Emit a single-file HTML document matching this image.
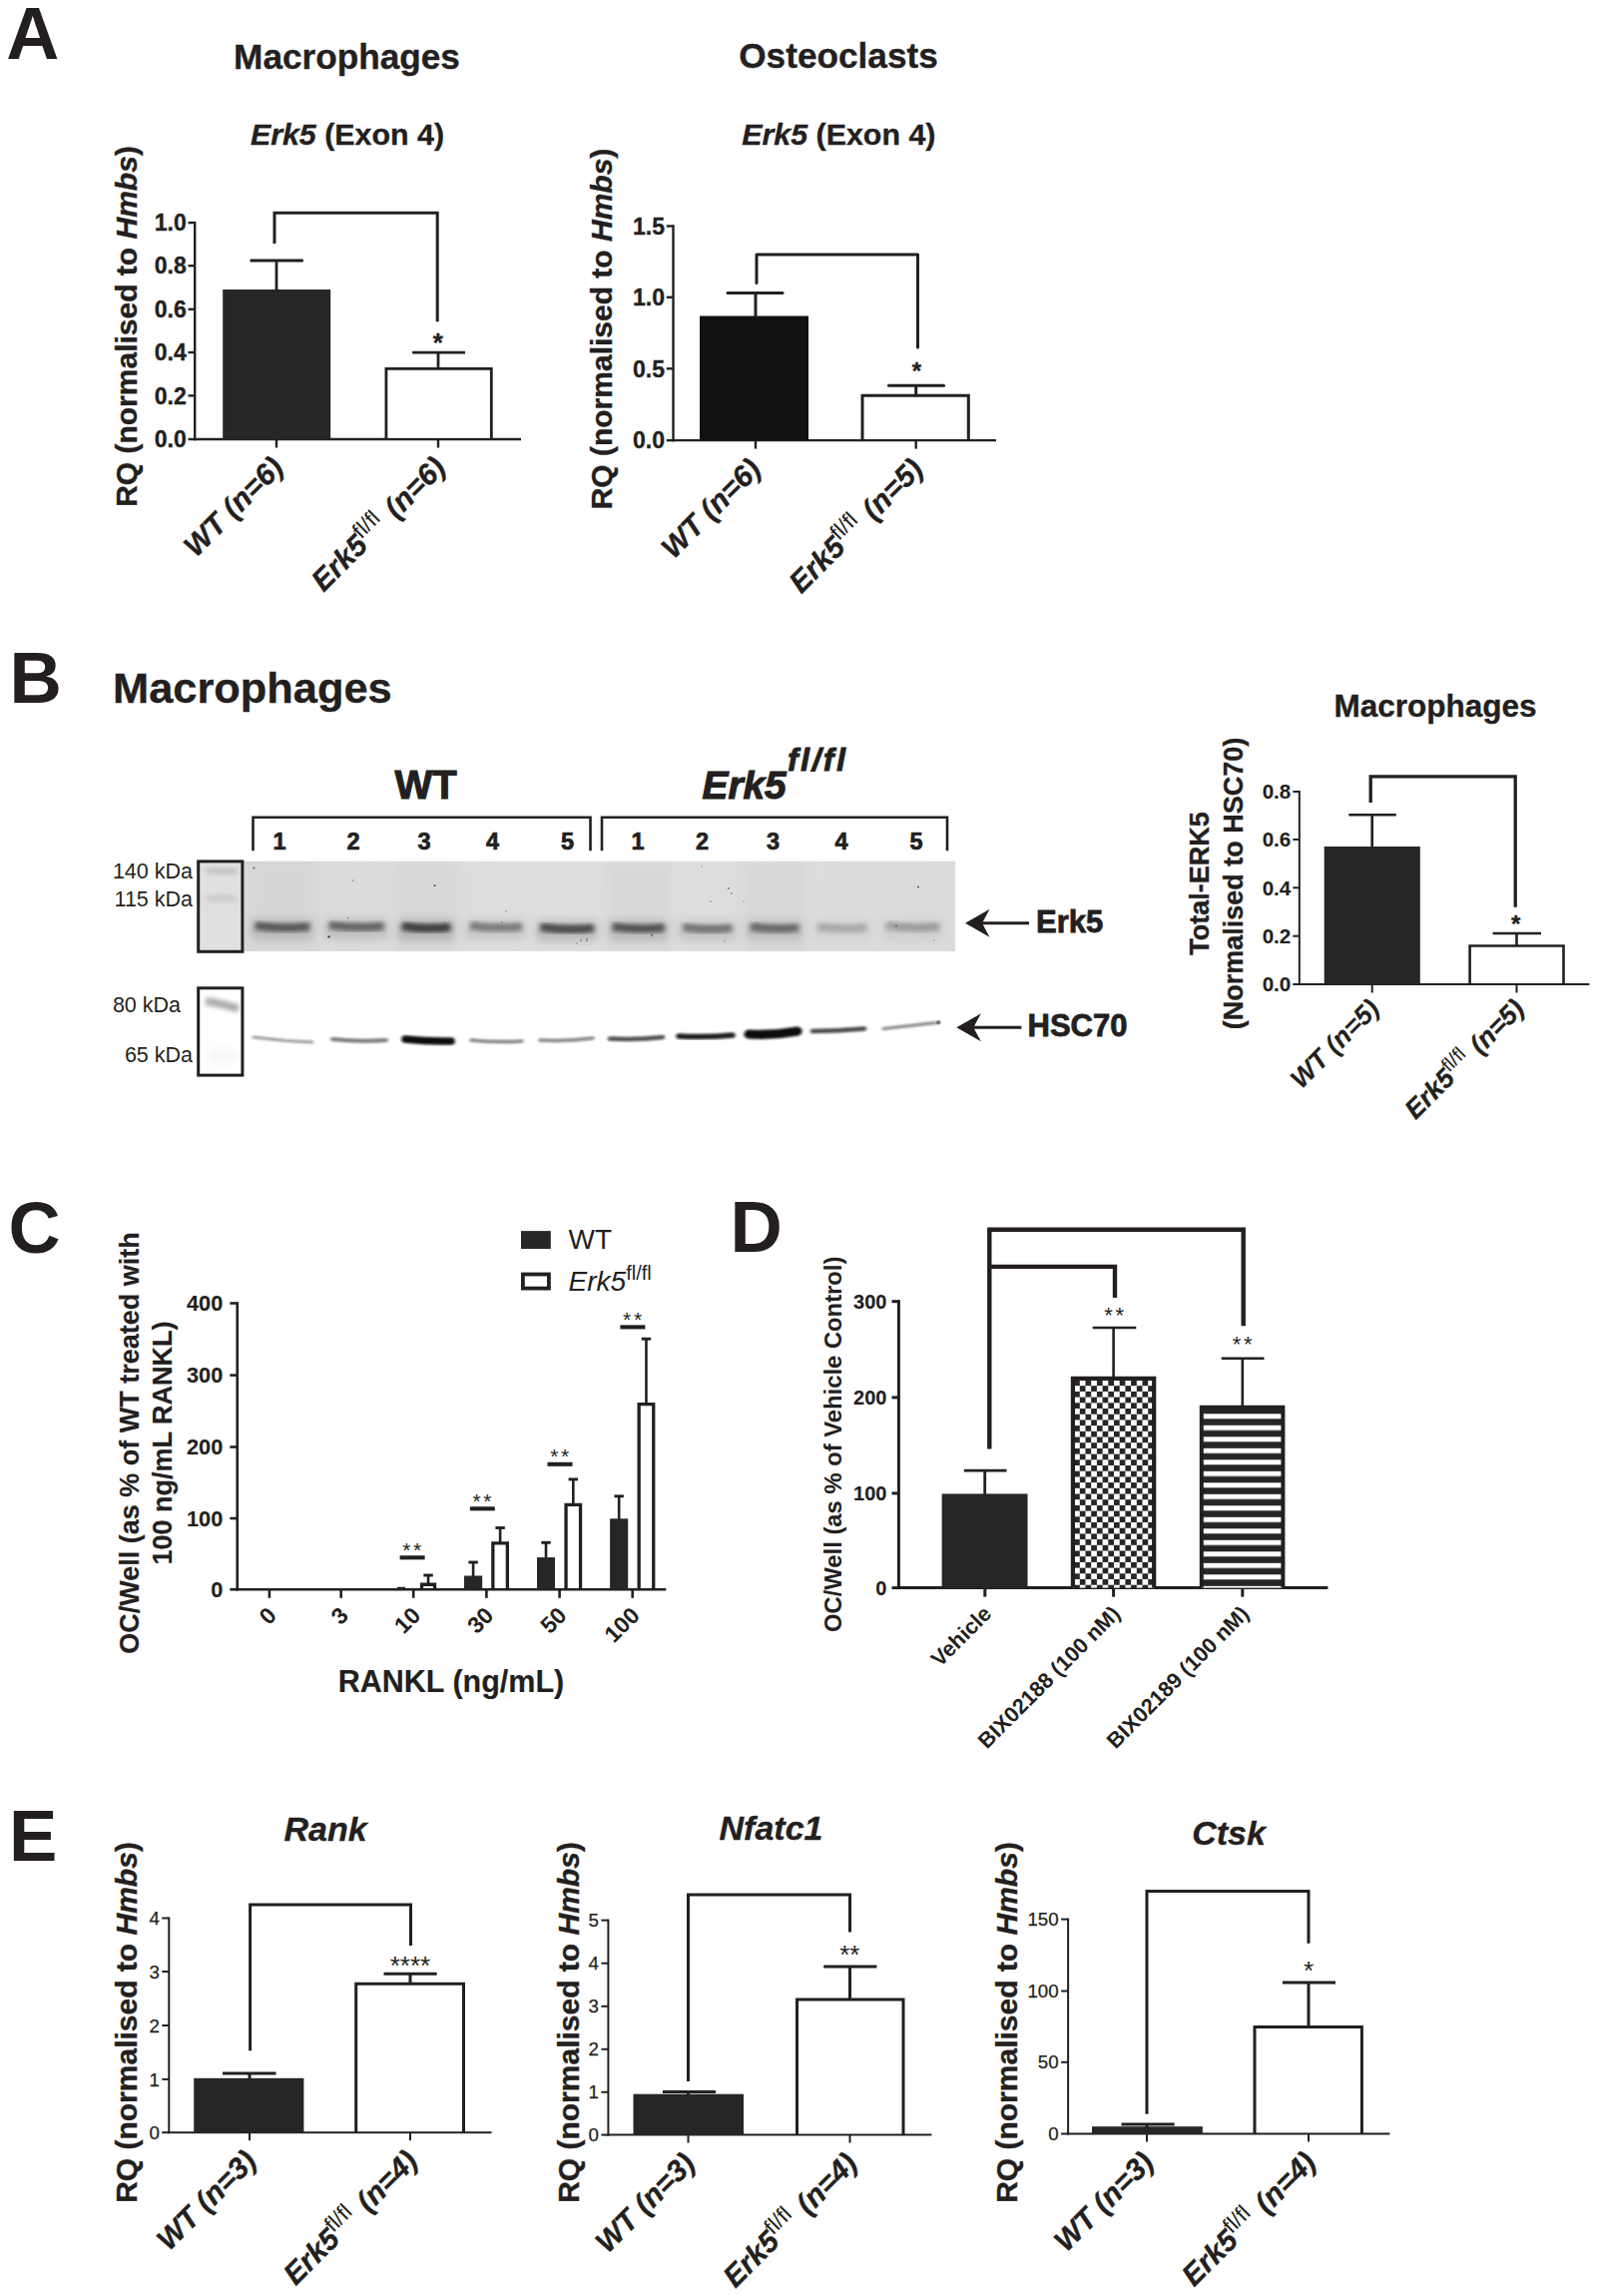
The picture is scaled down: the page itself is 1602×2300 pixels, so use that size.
<!DOCTYPE html>
<html><head><meta charset="utf-8"><title>Figure</title>
<style>html,body{margin:0;padding:0;background:#fff}svg{display:block}text{font-family:"Liberation Sans",sans-serif}</style></head>
<body>
<svg width="1602" height="2300" viewBox="0 0 1602 2300">
<rect width="1602" height="2300" fill="#fff"/>
<text x="6.20" y="59.40" font-size="73.5" font-weight="bold" font-style="normal" text-anchor="start" fill="#231f20" stroke="none">A</text>
<text x="347.50" y="69.00" font-size="35.2" font-weight="bold" font-style="normal" text-anchor="middle" fill="#231f20" stroke="#231f20" stroke-width="0.35">Macrophages</text>
<text x="348.00" y="145.00" font-size="30.4" font-weight="bold" font-style="normal" text-anchor="middle" fill="#231f20" stroke="#231f20" stroke-width="0.35"><tspan font-style="italic">Erk5</tspan> (Exon 4)</text>
<text transform="translate(137.00 327.00) rotate(-90)" font-size="30" font-weight="bold" font-style="normal" text-anchor="middle" fill="#231f20" stroke="#231f20" stroke-width="0.35">RQ (normalised to <tspan font-style="italic">Hmbs</tspan>)</text>
<line x1="195.20" y1="221.90" x2="195.20" y2="441.20" stroke="#231f20" stroke-width="2.4" stroke-linecap="butt"/>
<line x1="194.00" y1="440.00" x2="522.00" y2="440.00" stroke="#231f20" stroke-width="2.4" stroke-linecap="butt"/>
<line x1="188.50" y1="223.10" x2="195.20" y2="223.10" stroke="#231f20" stroke-width="2.4" stroke-linecap="butt"/>
<text x="186.70" y="231.33" font-size="23" font-weight="bold" font-style="normal" text-anchor="end" fill="#231f20" stroke="#231f20" stroke-width="0.35">1.0</text>
<line x1="188.50" y1="266.20" x2="195.20" y2="266.20" stroke="#231f20" stroke-width="2.4" stroke-linecap="butt"/>
<text x="186.70" y="274.43" font-size="23" font-weight="bold" font-style="normal" text-anchor="end" fill="#231f20" stroke="#231f20" stroke-width="0.35">0.8</text>
<line x1="188.50" y1="309.80" x2="195.20" y2="309.80" stroke="#231f20" stroke-width="2.4" stroke-linecap="butt"/>
<text x="186.70" y="318.03" font-size="23" font-weight="bold" font-style="normal" text-anchor="end" fill="#231f20" stroke="#231f20" stroke-width="0.35">0.6</text>
<line x1="188.50" y1="353.00" x2="195.20" y2="353.00" stroke="#231f20" stroke-width="2.4" stroke-linecap="butt"/>
<text x="186.70" y="361.23" font-size="23" font-weight="bold" font-style="normal" text-anchor="end" fill="#231f20" stroke="#231f20" stroke-width="0.35">0.4</text>
<line x1="188.50" y1="396.40" x2="195.20" y2="396.40" stroke="#231f20" stroke-width="2.4" stroke-linecap="butt"/>
<text x="186.70" y="404.63" font-size="23" font-weight="bold" font-style="normal" text-anchor="end" fill="#231f20" stroke="#231f20" stroke-width="0.35">0.2</text>
<line x1="188.50" y1="440.00" x2="195.20" y2="440.00" stroke="#231f20" stroke-width="2.4" stroke-linecap="butt"/>
<text x="186.70" y="448.23" font-size="23" font-weight="bold" font-style="normal" text-anchor="end" fill="#231f20" stroke="#231f20" stroke-width="0.35">0.0</text>
<line x1="277.00" y1="440.00" x2="277.00" y2="448.50" stroke="#231f20" stroke-width="2.4" stroke-linecap="butt"/>
<line x1="439.00" y1="440.00" x2="439.00" y2="448.50" stroke="#231f20" stroke-width="2.4" stroke-linecap="butt"/>
<rect x="223.20" y="290.00" width="108.00" height="150.00" fill="#262626" stroke="none" stroke-width="0"/>
<rect x="386.90" y="369.40" width="105.40" height="69.10" fill="#fff" stroke="none" stroke-width="0"/>
<path d="M386.90 440.00V369.40H492.30V440.00" stroke="#231f20" stroke-width="2.8" fill="none" stroke-linejoin="miter"/>
<line x1="277.00" y1="261.00" x2="277.00" y2="291.00" stroke="#231f20" stroke-width="2.8" stroke-linecap="butt"/>
<line x1="250.60" y1="261.00" x2="303.80" y2="261.00" stroke="#231f20" stroke-width="2.8" stroke-linecap="butt"/>
<line x1="439.00" y1="353.10" x2="439.00" y2="369.00" stroke="#231f20" stroke-width="2.8" stroke-linecap="butt"/>
<line x1="413.10" y1="353.10" x2="466.00" y2="353.10" stroke="#231f20" stroke-width="2.8" stroke-linecap="butt"/>
<path d="M275.00 244.00V213.30H438.20V322.30" stroke="#231f20" stroke-width="3" fill="none" stroke-linecap="butt" stroke-linejoin="miter"/>
<text x="438.80" y="351.50" font-size="26" font-weight="bold" font-style="normal" text-anchor="middle" fill="#231f20" stroke="#231f20" stroke-width="0.35">*</text>
<text transform="translate(285.50 470.00) rotate(-45)" font-size="29.7" font-weight="bold" font-style="italic" text-anchor="end" fill="#231f20" stroke="#231f20" stroke-width="0.35">WT (n=6)</text>
<text transform="translate(448.00 470.00) rotate(-45)" font-size="29.7" font-weight="bold" font-style="normal" text-anchor="end" fill="#231f20" xml:space="preserve" stroke="#231f20" stroke-width="0.35"><tspan font-style="italic">Erk5</tspan><tspan font-weight="normal" font-style="normal" stroke="none" font-size="22.0" dy="-11.0">fl/fl</tspan><tspan dy="11.0" dx="2.4" font-style="italic" xml:space="preserve"> (n=6)</tspan></text>
<text x="840.00" y="68.30" font-size="35.2" font-weight="bold" font-style="normal" text-anchor="middle" fill="#231f20" stroke="#231f20" stroke-width="0.35">Osteoclasts</text>
<text x="840.30" y="145.00" font-size="30.4" font-weight="bold" font-style="normal" text-anchor="middle" fill="#231f20" stroke="#231f20" stroke-width="0.35"><tspan font-style="italic">Erk5</tspan> (Exon 4)</text>
<text transform="translate(613.00 329.50) rotate(-90)" font-size="30" font-weight="bold" font-style="normal" text-anchor="middle" fill="#231f20" stroke="#231f20" stroke-width="0.35">RQ (normalised to <tspan font-style="italic">Hmbs</tspan>)</text>
<line x1="674.50" y1="225.30" x2="674.50" y2="442.30" stroke="#231f20" stroke-width="2.4" stroke-linecap="butt"/>
<line x1="673.30" y1="441.10" x2="998.00" y2="441.10" stroke="#231f20" stroke-width="2.4" stroke-linecap="butt"/>
<line x1="667.80" y1="226.50" x2="674.50" y2="226.50" stroke="#231f20" stroke-width="2.4" stroke-linecap="butt"/>
<text x="666.00" y="234.73" font-size="23" font-weight="bold" font-style="normal" text-anchor="end" fill="#231f20" stroke="#231f20" stroke-width="0.35">1.5</text>
<line x1="667.80" y1="297.80" x2="674.50" y2="297.80" stroke="#231f20" stroke-width="2.4" stroke-linecap="butt"/>
<text x="666.00" y="306.03" font-size="23" font-weight="bold" font-style="normal" text-anchor="end" fill="#231f20" stroke="#231f20" stroke-width="0.35">1.0</text>
<line x1="667.80" y1="369.30" x2="674.50" y2="369.30" stroke="#231f20" stroke-width="2.4" stroke-linecap="butt"/>
<text x="666.00" y="377.53" font-size="23" font-weight="bold" font-style="normal" text-anchor="end" fill="#231f20" stroke="#231f20" stroke-width="0.35">0.5</text>
<line x1="667.80" y1="441.10" x2="674.50" y2="441.10" stroke="#231f20" stroke-width="2.4" stroke-linecap="butt"/>
<text x="666.00" y="449.33" font-size="23" font-weight="bold" font-style="normal" text-anchor="end" fill="#231f20" stroke="#231f20" stroke-width="0.35">0.0</text>
<line x1="757.00" y1="441.10" x2="757.00" y2="449.60" stroke="#231f20" stroke-width="2.4" stroke-linecap="butt"/>
<line x1="917.70" y1="441.10" x2="917.70" y2="449.60" stroke="#231f20" stroke-width="2.4" stroke-linecap="butt"/>
<rect x="701.00" y="316.50" width="109.00" height="124.60" fill="#111" stroke="none" stroke-width="0"/>
<rect x="864.00" y="396.30" width="106.30" height="43.30" fill="#fff" stroke="none" stroke-width="0"/>
<path d="M864.00 441.10V396.30H970.30V441.10" stroke="#231f20" stroke-width="3" fill="none" stroke-linejoin="miter"/>
<line x1="757.00" y1="293.50" x2="757.00" y2="318.00" stroke="#231f20" stroke-width="3" stroke-linecap="butt"/>
<line x1="729.00" y1="293.50" x2="784.00" y2="293.50" stroke="#231f20" stroke-width="3" stroke-linecap="round"/>
<line x1="917.70" y1="386.20" x2="917.70" y2="396.00" stroke="#231f20" stroke-width="3" stroke-linecap="butt"/>
<line x1="890.50" y1="386.20" x2="945.50" y2="386.20" stroke="#231f20" stroke-width="3" stroke-linecap="round"/>
<path d="M758.00 283.50V255.00H919.50V348.00" stroke="#231f20" stroke-width="3" fill="none" stroke-linecap="round" stroke-linejoin="round"/>
<text x="918.30" y="379.50" font-size="24" font-weight="bold" font-style="normal" text-anchor="middle" fill="#231f20" stroke="#231f20" stroke-width="0.35">*</text>
<text transform="translate(764.00 471.70) rotate(-45)" font-size="29.7" font-weight="bold" font-style="italic" text-anchor="end" fill="#231f20" stroke="#231f20" stroke-width="0.35">WT (n=6)</text>
<text transform="translate(926.50 471.70) rotate(-45)" font-size="29.7" font-weight="bold" font-style="normal" text-anchor="end" fill="#231f20" xml:space="preserve" stroke="#231f20" stroke-width="0.35"><tspan font-style="italic">Erk5</tspan><tspan font-weight="normal" font-style="normal" stroke="none" font-size="22.0" dy="-11.0">fl/fl</tspan><tspan dy="11.0" dx="2.4" font-style="italic" xml:space="preserve"> (n=5)</tspan></text>
<text x="9.50" y="704.00" font-size="72.5" font-weight="bold" font-style="normal" text-anchor="start" fill="#231f20" stroke="none">B</text>
<text x="113.00" y="704.00" font-size="43.4" font-weight="bold" font-style="normal" text-anchor="start" fill="#231f20" stroke="#231f20" stroke-width="0.35">Macrophages</text>
<text x="426.50" y="800.00" font-size="40" font-weight="bold" font-style="normal" text-anchor="middle" fill="#231f20" stroke="#231f20" stroke-width="1.1">WT</text>
<text x="703.50" y="800.00" font-size="38.8" font-weight="bold" font-style="normal" text-anchor="start" fill="#231f20" stroke="#231f20" stroke-width="1.1"><tspan font-style="italic">Erk5</tspan><tspan font-style="italic" font-size="31" dy="-28" dx="1.5" letter-spacing="2.8">fl/fl</tspan></text>
<path d="M253.5 852.3V818.8H591.5V852.3" stroke="#231f20" stroke-width="2.6" fill="none" stroke-linejoin="miter"/>
<path d="M603 852.3V818.8H949V852.3" stroke="#231f20" stroke-width="2.6" fill="none" stroke-linejoin="miter"/>
<text x="280.00" y="851.00" font-size="23.5" font-weight="bold" font-style="normal" text-anchor="middle" fill="#231f20" stroke="#231f20" stroke-width="0.7">1</text>
<text x="354.00" y="851.00" font-size="23.5" font-weight="bold" font-style="normal" text-anchor="middle" fill="#231f20" stroke="#231f20" stroke-width="0.7">2</text>
<text x="425.00" y="851.00" font-size="23.5" font-weight="bold" font-style="normal" text-anchor="middle" fill="#231f20" stroke="#231f20" stroke-width="0.7">3</text>
<text x="493.50" y="851.00" font-size="23.5" font-weight="bold" font-style="normal" text-anchor="middle" fill="#231f20" stroke="#231f20" stroke-width="0.7">4</text>
<text x="568.50" y="851.00" font-size="23.5" font-weight="bold" font-style="normal" text-anchor="middle" fill="#231f20" stroke="#231f20" stroke-width="0.7">5</text>
<text x="639.00" y="851.00" font-size="23.5" font-weight="bold" font-style="normal" text-anchor="middle" fill="#231f20" stroke="#231f20" stroke-width="0.7">1</text>
<text x="703.50" y="851.00" font-size="23.5" font-weight="bold" font-style="normal" text-anchor="middle" fill="#231f20" stroke="#231f20" stroke-width="0.7">2</text>
<text x="774.50" y="851.00" font-size="23.5" font-weight="bold" font-style="normal" text-anchor="middle" fill="#231f20" stroke="#231f20" stroke-width="0.7">3</text>
<text x="843.00" y="851.00" font-size="23.5" font-weight="bold" font-style="normal" text-anchor="middle" fill="#231f20" stroke="#231f20" stroke-width="0.7">4</text>
<text x="918.00" y="851.00" font-size="23.5" font-weight="bold" font-style="normal" text-anchor="middle" fill="#231f20" stroke="#231f20" stroke-width="0.7">5</text>
<defs><filter id="b1" x="-30%" y="-200%" width="160%" height="500%"><feGaussianBlur stdDeviation="2.6 2.2"/></filter><filter id="b2" x="-30%" y="-200%" width="160%" height="500%"><feGaussianBlur stdDeviation="1.8 1.1"/></filter><filter id="b3" x="-30%" y="-200%" width="160%" height="500%"><feGaussianBlur stdDeviation="4 4.5"/></filter><filter id="b4" x="-50%" y="-50%" width="200%" height="200%"><feGaussianBlur stdDeviation="0.5"/></filter><linearGradient id="g1" x1="0" y1="0" x2="1" y2="0"><stop offset="0" stop-color="#dadada"/><stop offset=".5" stop-color="#dedede"/><stop offset="1" stop-color="#dbdbdb"/></linearGradient></defs>
<rect x="244.40" y="862.70" width="712.60" height="90.30" fill="url(#g1)" stroke="none" stroke-width="0"/>
<rect x="250" y="863" width="66" height="90" fill="#cfcfcf" opacity=".35" filter="url(#b3)" clip-path="url(#gc)"/>
<rect x="398" y="863" width="60" height="90" fill="#cfcfcf" opacity=".35" filter="url(#b3)" clip-path="url(#gc)"/>
<rect x="608" y="863" width="63" height="90" fill="#cfcfcf" opacity=".35" filter="url(#b3)" clip-path="url(#gc)"/>
<rect x="745" y="863" width="61" height="90" fill="#cfcfcf" opacity=".35" filter="url(#b3)" clip-path="url(#gc)"/>
<clipPath id="gc"><rect x="244.4" y="862.7" width="712.6" height="90.3"/></clipPath>
<rect x="251.8" y="921" width="62.2" height="20" fill="#777" opacity="0.31" filter="url(#b3)"/>
<path d="M255.8 927.5Q282.9 931.5 310.0 928.5" stroke="#2a2a2a" stroke-width="8" stroke-linecap="butt" fill="none" opacity="0.62" filter="url(#b1)"/>
<path d="M256.8 925.5Q282.9 929.0 309.0 926.5" stroke="#1a1a1a" stroke-width="3" stroke-linecap="butt" fill="none" opacity="0.31" filter="url(#b1)"/>
<rect x="326.0" y="920.5" width="62.4" height="20" fill="#777" opacity="0.28" filter="url(#b3)"/>
<path d="M330.0 927.0Q357.2 931.0 384.4 928.0" stroke="#2a2a2a" stroke-width="8" stroke-linecap="butt" fill="none" opacity="0.55" filter="url(#b1)"/>
<path d="M331.0 925.0Q357.2 928.5 383.4 926.0" stroke="#1a1a1a" stroke-width="3" stroke-linecap="butt" fill="none" opacity="0.28" filter="url(#b1)"/>
<rect x="399.0" y="921.5" width="56.0" height="20" fill="#777" opacity="0.40" filter="url(#b3)"/>
<path d="M403.0 928.0Q427.0 932.0 451.0 929.0" stroke="#2a2a2a" stroke-width="8" stroke-linecap="butt" fill="none" opacity="0.80" filter="url(#b1)"/>
<path d="M404.0 926.0Q427.0 929.5 450.0 927.0" stroke="#1a1a1a" stroke-width="3" stroke-linecap="butt" fill="none" opacity="0.40" filter="url(#b1)"/>
<rect x="467.0" y="921" width="60.0" height="20" fill="#777" opacity="0.21" filter="url(#b3)"/>
<path d="M471.0 927.5Q497.0 931.5 523.0 928.5" stroke="#2a2a2a" stroke-width="8" stroke-linecap="butt" fill="none" opacity="0.42" filter="url(#b1)"/>
<path d="M472.0 925.5Q497.0 929.0 522.0 926.5" stroke="#1a1a1a" stroke-width="3" stroke-linecap="butt" fill="none" opacity="0.21" filter="url(#b1)"/>
<rect x="537.7" y="922.5" width="61.0" height="20" fill="#777" opacity="0.36" filter="url(#b3)"/>
<path d="M541.7 929.0Q568.2 933.0 594.7 930.0" stroke="#2a2a2a" stroke-width="8" stroke-linecap="butt" fill="none" opacity="0.72" filter="url(#b1)"/>
<path d="M542.7 927.0Q568.2 930.5 593.7 928.0" stroke="#1a1a1a" stroke-width="3" stroke-linecap="butt" fill="none" opacity="0.36" filter="url(#b1)"/>
<rect x="609.8" y="922" width="59.7" height="20" fill="#777" opacity="0.33" filter="url(#b3)"/>
<path d="M613.8 928.5Q639.6 932.5 665.5 929.5" stroke="#2a2a2a" stroke-width="8" stroke-linecap="butt" fill="none" opacity="0.66" filter="url(#b1)"/>
<path d="M614.8 926.5Q639.6 930.0 664.5 927.5" stroke="#1a1a1a" stroke-width="3" stroke-linecap="butt" fill="none" opacity="0.33" filter="url(#b1)"/>
<rect x="680.3" y="922.5" width="57.1" height="20" fill="#777" opacity="0.23" filter="url(#b3)"/>
<path d="M684.3 929.0Q708.8 933.0 733.4 930.0" stroke="#2a2a2a" stroke-width="8" stroke-linecap="butt" fill="none" opacity="0.46" filter="url(#b1)"/>
<path d="M685.3 927.0Q708.8 930.5 732.4 928.0" stroke="#1a1a1a" stroke-width="3" stroke-linecap="butt" fill="none" opacity="0.23" filter="url(#b1)"/>
<rect x="748.0" y="922" width="56.0" height="20" fill="#777" opacity="0.26" filter="url(#b3)"/>
<path d="M752.0 928.5Q776.0 932.5 800.0 929.5" stroke="#2a2a2a" stroke-width="8" stroke-linecap="butt" fill="none" opacity="0.52" filter="url(#b1)"/>
<path d="M753.0 926.5Q776.0 930.0 799.0 927.5" stroke="#1a1a1a" stroke-width="3" stroke-linecap="butt" fill="none" opacity="0.26" filter="url(#b1)"/>
<rect x="815.0" y="922" width="57.0" height="20" fill="#777" opacity="0.10" filter="url(#b3)"/>
<path d="M819.0 928.5Q843.5 932.5 868.0 929.5" stroke="#2a2a2a" stroke-width="8" stroke-linecap="butt" fill="none" opacity="0.20" filter="url(#b1)"/>
<path d="M820.0 926.5Q843.5 930.0 867.0 927.5" stroke="#1a1a1a" stroke-width="3" stroke-linecap="butt" fill="none" opacity="0.10" filter="url(#b1)"/>
<rect x="884.0" y="921" width="61.0" height="20" fill="#777" opacity="0.13" filter="url(#b3)"/>
<path d="M888.0 927.5Q914.5 931.5 941.0 928.5" stroke="#2a2a2a" stroke-width="8" stroke-linecap="butt" fill="none" opacity="0.26" filter="url(#b1)"/>
<path d="M889.0 925.5Q914.5 929.0 940.0 926.5" stroke="#1a1a1a" stroke-width="3" stroke-linecap="butt" fill="none" opacity="0.13" filter="url(#b1)"/>
<circle cx="254.5" cy="869.5" r="0.9" fill="#222" opacity="0.7" filter="url(#b4)"/>
<circle cx="353.5" cy="882" r="0.8" fill="#222" opacity="0.5" filter="url(#b4)"/>
<circle cx="435.5" cy="887" r="1" fill="#222" opacity="0.8" filter="url(#b4)"/>
<circle cx="349" cy="919.5" r="0.8" fill="#222" opacity="0.5" filter="url(#b4)"/>
<circle cx="329.5" cy="938.5" r="1.2" fill="#222" opacity="0.8" filter="url(#b4)"/>
<circle cx="507" cy="913" r="0.7" fill="#222" opacity="0.6" filter="url(#b4)"/>
<circle cx="503" cy="924" r="0.7" fill="#222" opacity="0.6" filter="url(#b4)"/>
<circle cx="588" cy="942" r="0.8" fill="#222" opacity="0.7" filter="url(#b4)"/>
<circle cx="578" cy="945" r="0.7" fill="#222" opacity="0.5" filter="url(#b4)"/>
<circle cx="588" cy="940" r="0.7" fill="#222" opacity="0.5" filter="url(#b4)"/>
<circle cx="730" cy="890" r="1.1" fill="#222" opacity="0.5" filter="url(#b4)"/>
<circle cx="733" cy="895" r="0.9" fill="#222" opacity="0.45" filter="url(#b4)"/>
<circle cx="712" cy="903" r="0.8" fill="#222" opacity="0.5" filter="url(#b4)"/>
<circle cx="745" cy="903" r="0.7" fill="#222" opacity="0.4" filter="url(#b4)"/>
<circle cx="920" cy="888.5" r="1.1" fill="#222" opacity="0.65" filter="url(#b4)"/>
<circle cx="653" cy="937" r="0.9" fill="#222" opacity="0.7" filter="url(#b4)"/>
<circle cx="726" cy="943" r="0.7" fill="#222" opacity="0.5" filter="url(#b4)"/>
<circle cx="898" cy="927.5" r="0.9" fill="#222" opacity="0.5" filter="url(#b4)"/>
<circle cx="936" cy="942" r="0.7" fill="#222" opacity="0.45" filter="url(#b4)"/>
<circle cx="703" cy="868" r="0.7" fill="#222" opacity="0.4" filter="url(#b4)"/>
<circle cx="582" cy="942" r="0.8" fill="#222" opacity="0.7" filter="url(#b4)"/>
<rect x="198.70" y="862.90" width="44.20" height="90.40" fill="#e0e0e0" stroke="#231f20" stroke-width="3"/>
<rect x="207" y="869.5" width="30" height="6" fill="#999" opacity=".42" filter="url(#b1)"/>
<rect x="207" y="896.5" width="30" height="7" fill="#aaa" opacity=".36" filter="url(#b1)"/>
<text x="193.00" y="880.00" font-size="21.5" font-weight="normal" font-style="normal" text-anchor="end" fill="#231f20">140 kDa</text>
<text x="193.00" y="907.50" font-size="21.5" font-weight="normal" font-style="normal" text-anchor="end" fill="#231f20">115 kDa</text>
<rect x="198.70" y="989.80" width="44.20" height="87.30" fill="#fff" stroke="#231f20" stroke-width="3"/>
<path d="M206 1003Q222 1005 239 1010.5" stroke="#777" stroke-width="8" fill="none" opacity=".62" filter="url(#b1)"/>
<rect x="208" y="1052" width="28" height="12" fill="#ddd" opacity=".3" filter="url(#b3)"/>
<text x="181.00" y="1013.50" font-size="21.5" font-weight="normal" font-style="normal" text-anchor="end" fill="#231f20">80 kDa</text>
<text x="193.00" y="1063.50" font-size="21.5" font-weight="normal" font-style="normal" text-anchor="end" fill="#231f20">65 kDa</text>
<path d="M254 1039Q283.5 1043.0 313 1044" stroke="#0a0a0a" stroke-width="3" stroke-linecap="round" fill="none" opacity="0.4" filter="url(#b2)"/>
<path d="M333 1041Q360.0 1044.0 387 1042" stroke="#0a0a0a" stroke-width="4" stroke-linecap="round" fill="none" opacity="0.55" filter="url(#b2)"/>
<path d="M406 1041Q429.0 1043.5 452 1043" stroke="#0a0a0a" stroke-width="7.5" stroke-linecap="round" fill="none" opacity="1.0" filter="url(#b2)"/>
<path d="M472 1042Q497.5 1044.5 523 1043" stroke="#0a0a0a" stroke-width="3.5" stroke-linecap="round" fill="none" opacity="0.5" filter="url(#b2)"/>
<path d="M541 1042Q567.5 1043.5 594 1040" stroke="#0a0a0a" stroke-width="3.5" stroke-linecap="round" fill="none" opacity="0.5" filter="url(#b2)"/>
<path d="M611 1040.5Q637.5 1041.8 664 1039" stroke="#0a0a0a" stroke-width="4.5" stroke-linecap="round" fill="none" opacity="0.72" filter="url(#b2)"/>
<path d="M680 1038Q707.0 1039.5 734 1037" stroke="#0a0a0a" stroke-width="5.5" stroke-linecap="round" fill="none" opacity="0.92" filter="url(#b2)"/>
<path d="M750 1036Q774.5 1037.5 799 1033" stroke="#0a0a0a" stroke-width="9" stroke-linecap="round" fill="none" opacity="1.0" filter="url(#b2)"/>
<path d="M814 1033Q840.0 1032.8 866 1030.5" stroke="#0a0a0a" stroke-width="4.5" stroke-linecap="round" fill="none" opacity="0.75" filter="url(#b2)"/>
<path d="M885 1030.5Q911.5 1027.5 938 1024.5" stroke="#0a0a0a" stroke-width="3" stroke-linecap="round" fill="none" opacity="0.5" filter="url(#b2)"/>
<circle cx="940.3" cy="1024.2" r="2.2" fill="#333" opacity=".6" filter="url(#b4)"/>
<path d="M967 924.7L991.5 910.7L984 924.7L991.5 938.7Z" fill="#231f20"/>
<line x1="983.00" y1="924.70" x2="1031.00" y2="924.70" stroke="#231f20" stroke-width="3" stroke-linecap="butt"/>
<text x="1038.00" y="934.00" font-size="31" font-weight="bold" font-style="normal" text-anchor="start" fill="#231f20" stroke="#231f20" stroke-width="0.8">Erk5</text>
<path d="M958.3 1029.3L982.8 1015.3L975.3 1029.3L982.8 1043.3Z" fill="#231f20"/>
<line x1="974.30" y1="1029.30" x2="1023.40" y2="1029.30" stroke="#231f20" stroke-width="3" stroke-linecap="butt"/>
<text x="1029.50" y="1038.30" font-size="31" font-weight="bold" font-style="normal" text-anchor="start" fill="#231f20" stroke="#231f20" stroke-width="0.8">HSC70</text>
<text x="1438.00" y="718.00" font-size="31.5" font-weight="bold" font-style="normal" text-anchor="middle" fill="#231f20" stroke="#231f20" stroke-width="0.35">Macrophages</text>
<text transform="translate(1211.00 885.00) rotate(-90)" font-size="27" font-weight="bold" font-style="normal" text-anchor="middle" fill="#231f20" stroke="#231f20" stroke-width="0.35">Total-ERK5</text>
<text transform="translate(1245.00 885.00) rotate(-90)" font-size="27" font-weight="bold" font-style="normal" text-anchor="middle" fill="#231f20" stroke="#231f20" stroke-width="0.35">(Normalised to HSC70)</text>
<line x1="1301.80" y1="792.00" x2="1301.80" y2="987.00" stroke="#231f20" stroke-width="2" stroke-linecap="butt"/>
<line x1="1300.80" y1="986.00" x2="1592.40" y2="986.00" stroke="#231f20" stroke-width="2" stroke-linecap="butt"/>
<line x1="1295.30" y1="793.00" x2="1301.80" y2="793.00" stroke="#231f20" stroke-width="2" stroke-linecap="butt"/>
<text x="1293.30" y="800.37" font-size="20.6" font-weight="bold" font-style="normal" text-anchor="end" fill="#231f20" stroke="#231f20" stroke-width="0.1">0.8</text>
<line x1="1295.30" y1="841.00" x2="1301.80" y2="841.00" stroke="#231f20" stroke-width="2" stroke-linecap="butt"/>
<text x="1293.30" y="848.37" font-size="20.6" font-weight="bold" font-style="normal" text-anchor="end" fill="#231f20" stroke="#231f20" stroke-width="0.1">0.6</text>
<line x1="1295.30" y1="889.30" x2="1301.80" y2="889.30" stroke="#231f20" stroke-width="2" stroke-linecap="butt"/>
<text x="1293.30" y="896.67" font-size="20.6" font-weight="bold" font-style="normal" text-anchor="end" fill="#231f20" stroke="#231f20" stroke-width="0.1">0.4</text>
<line x1="1295.30" y1="937.70" x2="1301.80" y2="937.70" stroke="#231f20" stroke-width="2" stroke-linecap="butt"/>
<text x="1293.30" y="945.07" font-size="20.6" font-weight="bold" font-style="normal" text-anchor="end" fill="#231f20" stroke="#231f20" stroke-width="0.1">0.2</text>
<line x1="1295.30" y1="986.00" x2="1301.80" y2="986.00" stroke="#231f20" stroke-width="2" stroke-linecap="butt"/>
<text x="1293.30" y="993.37" font-size="20.6" font-weight="bold" font-style="normal" text-anchor="end" fill="#231f20" stroke="#231f20" stroke-width="0.1">0.0</text>
<line x1="1374.70" y1="986.00" x2="1374.70" y2="994.50" stroke="#231f20" stroke-width="2" stroke-linecap="butt"/>
<line x1="1519.50" y1="986.00" x2="1519.50" y2="994.50" stroke="#231f20" stroke-width="2" stroke-linecap="butt"/>
<rect x="1326.70" y="848.00" width="96.10" height="138.00" fill="#262626" stroke="none" stroke-width="0"/>
<rect x="1472.60" y="947.50" width="93.90" height="37.00" fill="#fff" stroke="none" stroke-width="0"/>
<path d="M1472.60 986.00V947.50H1566.50V986.00" stroke="#231f20" stroke-width="2.6" fill="none" stroke-linejoin="miter"/>
<line x1="1374.70" y1="816.30" x2="1374.70" y2="849.00" stroke="#231f20" stroke-width="2.6" stroke-linecap="butt"/>
<line x1="1351.30" y1="816.30" x2="1398.80" y2="816.30" stroke="#231f20" stroke-width="2.6" stroke-linecap="butt"/>
<line x1="1519.50" y1="935.00" x2="1519.50" y2="948.00" stroke="#231f20" stroke-width="2.6" stroke-linecap="butt"/>
<line x1="1495.60" y1="935.00" x2="1544.00" y2="935.00" stroke="#231f20" stroke-width="2.6" stroke-linecap="butt"/>
<path d="M1373.20 804.00V777.80H1518.20V908.80" stroke="#231f20" stroke-width="3.3" fill="none" stroke-linecap="butt" stroke-linejoin="miter"/>
<text x="1518.70" y="933.50" font-size="24" font-weight="bold" font-style="normal" text-anchor="middle" fill="#231f20" stroke="#231f20" stroke-width="0.35">*</text>
<text transform="translate(1383.50 1012.00) rotate(-45)" font-size="26.5" font-weight="bold" font-style="italic" text-anchor="end" fill="#231f20" stroke="#231f20" stroke-width="0.15">WT (n=5)</text>
<text transform="translate(1528.50 1012.00) rotate(-45)" font-size="26.5" font-weight="bold" font-style="normal" text-anchor="end" fill="#231f20" xml:space="preserve" stroke="#231f20" stroke-width="0.35"><tspan font-style="italic">Erk5</tspan><tspan font-weight="normal" font-style="normal" stroke="none" font-size="19.6" dy="-9.8">fl/fl</tspan><tspan dy="9.8" dx="2.1" font-style="italic" xml:space="preserve"> (n=5)</tspan></text>
<text x="8.50" y="1254.50" font-size="72" font-weight="bold" font-style="normal" text-anchor="start" fill="#231f20" stroke="none">C</text>
<rect x="522.00" y="1233.10" width="29.80" height="17.90" fill="#262626" stroke="none" stroke-width="0"/>
<text x="569.60" y="1251.00" font-size="28" font-weight="normal" font-style="normal" text-anchor="start" fill="#231f20">WT</text>
<rect x="523.90" y="1276.50" width="26.00" height="14.10" fill="#fff" stroke="#231f20" stroke-width="3.8"/>
<text x="569.60" y="1292.60" font-size="28" font-weight="normal" font-style="normal" text-anchor="start" fill="#231f20"><tspan font-style="italic">Erk5</tspan><tspan font-size="20" dy="-10.5">fl/fl</tspan></text>
<text transform="translate(138.80 1445.50) rotate(-90)" font-size="27" font-weight="bold" font-style="normal" text-anchor="middle" fill="#231f20" stroke="#231f20" stroke-width="0.15">OC/Well (as % of WT treated with</text>
<text transform="translate(171.50 1445.50) rotate(-90)" font-size="27" font-weight="bold" font-style="normal" text-anchor="middle" fill="#231f20" stroke="#231f20" stroke-width="0.15">100 ng/mL RANKL)</text>
<line x1="237.75" y1="1304.20" x2="237.75" y2="1593.50" stroke="#231f20" stroke-width="2.6" stroke-linecap="butt"/>
<line x1="236.45" y1="1592.20" x2="667.30" y2="1592.20" stroke="#231f20" stroke-width="2.6" stroke-linecap="butt"/>
<line x1="230.35" y1="1305.50" x2="237.75" y2="1305.50" stroke="#231f20" stroke-width="2.6" stroke-linecap="butt"/>
<text x="223.25" y="1313.27" font-size="21.7" font-weight="bold" font-style="normal" text-anchor="end" fill="#231f20" stroke="#231f20" stroke-width="0.15">400</text>
<line x1="230.35" y1="1377.60" x2="237.75" y2="1377.60" stroke="#231f20" stroke-width="2.6" stroke-linecap="butt"/>
<text x="223.25" y="1385.37" font-size="21.7" font-weight="bold" font-style="normal" text-anchor="end" fill="#231f20" stroke="#231f20" stroke-width="0.15">300</text>
<line x1="230.35" y1="1449.50" x2="237.75" y2="1449.50" stroke="#231f20" stroke-width="2.6" stroke-linecap="butt"/>
<text x="223.25" y="1457.27" font-size="21.7" font-weight="bold" font-style="normal" text-anchor="end" fill="#231f20" stroke="#231f20" stroke-width="0.15">200</text>
<line x1="230.35" y1="1521.00" x2="237.75" y2="1521.00" stroke="#231f20" stroke-width="2.6" stroke-linecap="butt"/>
<text x="223.25" y="1528.77" font-size="21.7" font-weight="bold" font-style="normal" text-anchor="end" fill="#231f20" stroke="#231f20" stroke-width="0.15">100</text>
<line x1="230.35" y1="1592.20" x2="237.75" y2="1592.20" stroke="#231f20" stroke-width="2.6" stroke-linecap="butt"/>
<text x="223.25" y="1599.97" font-size="21.7" font-weight="bold" font-style="normal" text-anchor="end" fill="#231f20" stroke="#231f20" stroke-width="0.15">0</text>
<line x1="269.90" y1="1592.20" x2="269.90" y2="1600.80" stroke="#231f20" stroke-width="2.6" stroke-linecap="butt"/>
<line x1="341.70" y1="1592.20" x2="341.70" y2="1600.80" stroke="#231f20" stroke-width="2.6" stroke-linecap="butt"/>
<line x1="414.20" y1="1592.20" x2="414.20" y2="1600.80" stroke="#231f20" stroke-width="2.6" stroke-linecap="butt"/>
<line x1="487.40" y1="1592.20" x2="487.40" y2="1600.80" stroke="#231f20" stroke-width="2.6" stroke-linecap="butt"/>
<line x1="560.60" y1="1592.20" x2="560.60" y2="1600.80" stroke="#231f20" stroke-width="2.6" stroke-linecap="butt"/>
<line x1="633.70" y1="1592.20" x2="633.70" y2="1600.80" stroke="#231f20" stroke-width="2.6" stroke-linecap="butt"/>
<text transform="translate(278.40 1619.70) rotate(-45)" font-size="23" font-weight="bold" font-style="normal" text-anchor="end" fill="#231f20" stroke="none">0</text>
<text transform="translate(350.20 1619.70) rotate(-45)" font-size="23" font-weight="bold" font-style="normal" text-anchor="end" fill="#231f20" stroke="none">3</text>
<text transform="translate(422.70 1619.70) rotate(-45)" font-size="23" font-weight="bold" font-style="normal" text-anchor="end" fill="#231f20" stroke="none">10</text>
<text transform="translate(495.90 1619.70) rotate(-45)" font-size="23" font-weight="bold" font-style="normal" text-anchor="end" fill="#231f20" stroke="none">30</text>
<text transform="translate(569.10 1619.70) rotate(-45)" font-size="23" font-weight="bold" font-style="normal" text-anchor="end" fill="#231f20" stroke="none">50</text>
<text transform="translate(642.20 1619.70) rotate(-45)" font-size="23" font-weight="bold" font-style="normal" text-anchor="end" fill="#231f20" stroke="none">100</text>
<line x1="398.00" y1="1590.50" x2="406.00" y2="1590.50" stroke="#231f20" stroke-width="1.5" stroke-linecap="butt"/>
<line x1="429.05" y1="1578.00" x2="429.05" y2="1586.60" stroke="#231f20" stroke-width="2.6" stroke-linecap="butt"/>
<line x1="424.35" y1="1578.00" x2="433.75" y2="1578.00" stroke="#231f20" stroke-width="2.9" stroke-linecap="butt"/>
<rect x="422.55" y="1587.25" width="13.00" height="3.45" fill="#fff" stroke="none" stroke-width="0"/>
<path d="M422.55 1592.20V1587.25H435.55V1592.20" stroke="#231f20" stroke-width="3.3" fill="none" stroke-linejoin="miter"/>
<line x1="474.10" y1="1565.00" x2="474.10" y2="1579.50" stroke="#231f20" stroke-width="2.6" stroke-linecap="butt"/>
<line x1="469.40" y1="1565.00" x2="478.80" y2="1565.00" stroke="#231f20" stroke-width="2.9" stroke-linecap="butt"/>
<rect x="465.00" y="1578.50" width="18.20" height="13.70" fill="#262626" stroke="none" stroke-width="0"/>
<line x1="501.10" y1="1530.50" x2="501.10" y2="1545.20" stroke="#231f20" stroke-width="2.6" stroke-linecap="butt"/>
<line x1="496.40" y1="1530.50" x2="505.80" y2="1530.50" stroke="#231f20" stroke-width="2.9" stroke-linecap="butt"/>
<rect x="493.85" y="1545.85" width="14.50" height="44.85" fill="#fff" stroke="none" stroke-width="0"/>
<path d="M493.85 1592.20V1545.85H508.35V1592.20" stroke="#231f20" stroke-width="3.3" fill="none" stroke-linejoin="miter"/>
<line x1="547.00" y1="1545.30" x2="547.00" y2="1561.10" stroke="#231f20" stroke-width="2.6" stroke-linecap="butt"/>
<line x1="542.30" y1="1545.30" x2="551.70" y2="1545.30" stroke="#231f20" stroke-width="2.9" stroke-linecap="butt"/>
<rect x="538.00" y="1560.10" width="18.00" height="32.10" fill="#262626" stroke="none" stroke-width="0"/>
<line x1="574.30" y1="1481.90" x2="574.30" y2="1506.70" stroke="#231f20" stroke-width="2.6" stroke-linecap="butt"/>
<line x1="569.60" y1="1481.90" x2="579.00" y2="1481.90" stroke="#231f20" stroke-width="2.9" stroke-linecap="butt"/>
<rect x="567.05" y="1507.35" width="14.50" height="83.35" fill="#fff" stroke="none" stroke-width="0"/>
<path d="M567.05 1592.20V1507.35H581.55V1592.20" stroke="#231f20" stroke-width="3.3" fill="none" stroke-linejoin="miter"/>
<line x1="620.15" y1="1498.80" x2="620.15" y2="1522.30" stroke="#231f20" stroke-width="2.6" stroke-linecap="butt"/>
<line x1="615.45" y1="1498.80" x2="624.85" y2="1498.80" stroke="#231f20" stroke-width="2.9" stroke-linecap="butt"/>
<rect x="611.10" y="1521.30" width="18.10" height="70.90" fill="#262626" stroke="none" stroke-width="0"/>
<line x1="647.45" y1="1341.20" x2="647.45" y2="1406.00" stroke="#231f20" stroke-width="2.6" stroke-linecap="butt"/>
<line x1="642.75" y1="1341.20" x2="652.15" y2="1341.20" stroke="#231f20" stroke-width="2.9" stroke-linecap="butt"/>
<rect x="640.15" y="1406.65" width="14.60" height="184.05" fill="#fff" stroke="none" stroke-width="0"/>
<path d="M640.15 1592.20V1406.65H654.75V1592.20" stroke="#231f20" stroke-width="3.3" fill="none" stroke-linejoin="miter"/>
<line x1="400.60" y1="1560.30" x2="425.60" y2="1560.30" stroke="#231f20" stroke-width="4.1" stroke-linecap="butt"/>
<text x="414.10" y="1559.70" font-size="21" font-weight="normal" font-style="normal" text-anchor="middle" fill="#231f20" letter-spacing="2.7">**</text>
<line x1="470.80" y1="1511.30" x2="495.80" y2="1511.30" stroke="#231f20" stroke-width="4.1" stroke-linecap="butt"/>
<text x="484.30" y="1510.70" font-size="21" font-weight="normal" font-style="normal" text-anchor="middle" fill="#231f20" letter-spacing="2.7">**</text>
<line x1="548.50" y1="1466.80" x2="573.50" y2="1466.80" stroke="#231f20" stroke-width="4.1" stroke-linecap="butt"/>
<text x="562.00" y="1466.20" font-size="21" font-weight="normal" font-style="normal" text-anchor="middle" fill="#231f20" letter-spacing="2.7">**</text>
<line x1="621.40" y1="1329.40" x2="646.40" y2="1329.40" stroke="#231f20" stroke-width="4.1" stroke-linecap="butt"/>
<text x="634.90" y="1328.80" font-size="21" font-weight="normal" font-style="normal" text-anchor="middle" fill="#231f20" letter-spacing="2.7">**</text>
<text x="452.00" y="1695.30" font-size="30.5" font-weight="bold" font-style="normal" text-anchor="middle" fill="#231f20" stroke="#231f20" stroke-width="0.15">RANKL (ng/mL)</text>
<text x="731.50" y="1254.30" font-size="72.5" font-weight="bold" font-style="normal" text-anchor="start" fill="#231f20" stroke="none">D</text>
<defs><pattern id="chk" width="11.4" height="11.4" patternUnits="userSpaceOnUse" x="1076.1" y="1382.5"><rect width="11.4" height="11.4" fill="#fff"/><rect width="5.7" height="5.7" fill="#262626"/><rect x="5.7" y="5.7" width="5.7" height="5.7" fill="#262626"/></pattern><pattern id="str" width="20" height="11.5" patternUnits="userSpaceOnUse" x="1202" y="1416.3"><rect width="20" height="11.5" fill="#262626"/><rect y="0" width="20" height="5" fill="#fff"/></pattern></defs>
<text transform="translate(843.00 1446.80) rotate(-90)" font-size="23.8" font-weight="bold" font-style="normal" text-anchor="middle" fill="#231f20" stroke="none">OC/Well (as % of Vehicle Control)</text>
<line x1="900.40" y1="1302.20" x2="900.40" y2="1592.10" stroke="#231f20" stroke-width="3" stroke-linecap="butt"/>
<line x1="898.90" y1="1590.60" x2="1330.40" y2="1590.60" stroke="#231f20" stroke-width="3" stroke-linecap="butt"/>
<line x1="893.50" y1="1303.70" x2="900.40" y2="1303.70" stroke="#231f20" stroke-width="3" stroke-linecap="butt"/>
<text x="888.40" y="1310.86" font-size="20" font-weight="bold" font-style="normal" text-anchor="end" fill="#231f20" stroke="#231f20" stroke-width="0.15">300</text>
<line x1="893.50" y1="1399.90" x2="900.40" y2="1399.90" stroke="#231f20" stroke-width="3" stroke-linecap="butt"/>
<text x="888.40" y="1407.06" font-size="20" font-weight="bold" font-style="normal" text-anchor="end" fill="#231f20" stroke="#231f20" stroke-width="0.15">200</text>
<line x1="893.50" y1="1495.90" x2="900.40" y2="1495.90" stroke="#231f20" stroke-width="3" stroke-linecap="butt"/>
<text x="888.40" y="1503.06" font-size="20" font-weight="bold" font-style="normal" text-anchor="end" fill="#231f20" stroke="#231f20" stroke-width="0.15">100</text>
<line x1="893.50" y1="1590.60" x2="900.40" y2="1590.60" stroke="#231f20" stroke-width="3" stroke-linecap="butt"/>
<text x="888.40" y="1597.76" font-size="20" font-weight="bold" font-style="normal" text-anchor="end" fill="#231f20" stroke="#231f20" stroke-width="0.15">0</text>
<line x1="986.80" y1="1590.60" x2="986.80" y2="1599.60" stroke="#231f20" stroke-width="3" stroke-linecap="butt"/>
<line x1="1115.60" y1="1590.60" x2="1115.60" y2="1599.60" stroke="#231f20" stroke-width="3" stroke-linecap="butt"/>
<line x1="1244.80" y1="1590.60" x2="1244.80" y2="1599.60" stroke="#231f20" stroke-width="3" stroke-linecap="butt"/>
<rect x="943.60" y="1496.40" width="85.90" height="94.20" fill="#262626" stroke="none" stroke-width="0"/>
<rect x="1074.80" y="1380.80" width="81.50" height="209.80" fill="url(#chk)" stroke="none" stroke-width="0"/>
<path d="M1074.9 1590.6V1380.9H1156.2V1590.6" stroke="#231f20" stroke-width="4.2" fill="none" stroke-linejoin="miter"/>
<rect x="1203.80" y="1409.70" width="81.60" height="180.90" fill="url(#str)" stroke="none" stroke-width="0"/>
<path d="M1203.8 1590.6V1409.7H1285.4V1590.6" stroke="#231f20" stroke-width="4" fill="none" stroke-linejoin="miter"/>
<line x1="986.70" y1="1473.20" x2="986.70" y2="1497.00" stroke="#231f20" stroke-width="2.8" stroke-linecap="butt"/>
<line x1="965.80" y1="1473.20" x2="1008.50" y2="1473.20" stroke="#231f20" stroke-width="2.8" stroke-linecap="butt"/>
<line x1="1115.60" y1="1330.00" x2="1115.60" y2="1380.00" stroke="#231f20" stroke-width="2.6" stroke-linecap="butt"/>
<line x1="1094.70" y1="1330.00" x2="1138.30" y2="1330.00" stroke="#231f20" stroke-width="2.6" stroke-linecap="butt"/>
<line x1="1244.80" y1="1360.80" x2="1244.80" y2="1408.00" stroke="#231f20" stroke-width="2.6" stroke-linecap="butt"/>
<line x1="1223.70" y1="1360.80" x2="1266.50" y2="1360.80" stroke="#231f20" stroke-width="2.6" stroke-linecap="butt"/>
<path d="M991.3 1451.4V1231.7H1245.7V1328.3" stroke="#231f20" stroke-width="4.4" fill="none" stroke-linejoin="miter"/>
<path d="M991.3 1268.9H1117V1300" stroke="#231f20" stroke-width="4.4" fill="none" stroke-linejoin="miter"/>
<text x="1117.50" y="1325.00" font-size="22" font-weight="normal" font-style="normal" text-anchor="middle" fill="#231f20" letter-spacing="2.7">**</text>
<text x="1246.00" y="1354.00" font-size="22" font-weight="normal" font-style="normal" text-anchor="middle" fill="#231f20" letter-spacing="2.7">**</text>
<text transform="translate(994.50 1618.00) rotate(-45)" font-size="21.7" font-weight="bold" font-style="normal" text-anchor="end" fill="#231f20" stroke="none">Vehicle</text>
<text transform="translate(1123.50 1618.00) rotate(-45)" font-size="21.7" font-weight="bold" font-style="normal" text-anchor="end" fill="#231f20" stroke="none">BIX02188 (100 nM)</text>
<text transform="translate(1252.50 1618.00) rotate(-45)" font-size="21.7" font-weight="bold" font-style="normal" text-anchor="end" fill="#231f20" stroke="none">BIX02189 (100 nM)</text>
<text x="9.00" y="1864.00" font-size="72.5" font-weight="bold" font-style="normal" text-anchor="start" fill="#231f20" stroke="none">E</text>
<text x="326.00" y="1844.00" font-size="34" font-weight="bold" font-style="italic" text-anchor="middle" fill="#231f20" stroke="#231f20" stroke-width="0.35">Rank</text>
<text transform="translate(137.00 2026.00) rotate(-90)" font-size="30" font-weight="bold" font-style="normal" text-anchor="middle" fill="#231f20" stroke="#231f20" stroke-width="0.35">RQ (normalised to <tspan font-style="italic">Hmbs</tspan>)</text>
<line x1="169.30" y1="1920.50" x2="169.30" y2="2137.20" stroke="#231f20" stroke-width="2" stroke-linecap="butt"/>
<line x1="168.30" y1="2136.20" x2="492.50" y2="2136.20" stroke="#231f20" stroke-width="2" stroke-linecap="butt"/>
<line x1="162.30" y1="1921.50" x2="169.30" y2="1921.50" stroke="#231f20" stroke-width="2" stroke-linecap="butt"/>
<text x="159.80" y="1928.19" font-size="18.7" font-weight="normal" font-style="normal" text-anchor="end" fill="#231f20" stroke="#231f20" stroke-width="0.25">4</text>
<line x1="162.30" y1="1975.00" x2="169.30" y2="1975.00" stroke="#231f20" stroke-width="2" stroke-linecap="butt"/>
<text x="159.80" y="1981.69" font-size="18.7" font-weight="normal" font-style="normal" text-anchor="end" fill="#231f20" stroke="#231f20" stroke-width="0.25">3</text>
<line x1="162.30" y1="2029.00" x2="169.30" y2="2029.00" stroke="#231f20" stroke-width="2" stroke-linecap="butt"/>
<text x="159.80" y="2035.69" font-size="18.7" font-weight="normal" font-style="normal" text-anchor="end" fill="#231f20" stroke="#231f20" stroke-width="0.25">2</text>
<line x1="162.30" y1="2082.90" x2="169.30" y2="2082.90" stroke="#231f20" stroke-width="2" stroke-linecap="butt"/>
<text x="159.80" y="2089.59" font-size="18.7" font-weight="normal" font-style="normal" text-anchor="end" fill="#231f20" stroke="#231f20" stroke-width="0.25">1</text>
<line x1="162.30" y1="2136.20" x2="169.30" y2="2136.20" stroke="#231f20" stroke-width="2" stroke-linecap="butt"/>
<text x="159.80" y="2142.89" font-size="18.7" font-weight="normal" font-style="normal" text-anchor="end" fill="#231f20" stroke="#231f20" stroke-width="0.25">0</text>
<line x1="250.00" y1="2136.20" x2="250.00" y2="2144.20" stroke="#231f20" stroke-width="2" stroke-linecap="butt"/>
<line x1="411.00" y1="2136.20" x2="411.00" y2="2144.20" stroke="#231f20" stroke-width="2" stroke-linecap="butt"/>
<rect x="194.20" y="2081.80" width="110.20" height="54.40" fill="#262626" stroke="none" stroke-width="0"/>
<rect x="356.70" y="1987.20" width="107.80" height="147.50" fill="#fff" stroke="none" stroke-width="0"/>
<path d="M356.70 2136.20V1987.20H464.50V2136.20" stroke="#231f20" stroke-width="3" fill="none" stroke-linejoin="miter"/>
<line x1="250.00" y1="2077.10" x2="250.00" y2="2082.80" stroke="#231f20" stroke-width="3" stroke-linecap="butt"/>
<line x1="223.00" y1="2077.10" x2="276.50" y2="2077.10" stroke="#231f20" stroke-width="3" stroke-linecap="butt"/>
<line x1="411.00" y1="1977.20" x2="411.00" y2="1986.70" stroke="#231f20" stroke-width="3" stroke-linecap="butt"/>
<line x1="384.50" y1="1977.20" x2="437.70" y2="1977.20" stroke="#231f20" stroke-width="3" stroke-linecap="butt"/>
<path d="M250.60 2054.20V1908.10H411.50V1949.10" stroke="#231f20" stroke-width="3" fill="none" stroke-linecap="butt" stroke-linejoin="miter"/>
<text x="411.00" y="1978.00" font-size="26" font-weight="normal" font-style="normal" text-anchor="middle" fill="#231f20">****</text>
<text transform="translate(258.50 2166.60) rotate(-45)" font-size="29.7" font-weight="bold" font-style="italic" text-anchor="end" fill="#231f20" stroke="#231f20" stroke-width="0.35">WT (n=3)</text>
<text transform="translate(420.00 2166.60) rotate(-45)" font-size="29.7" font-weight="bold" font-style="normal" text-anchor="end" fill="#231f20" xml:space="preserve" stroke="#231f20" stroke-width="0.35"><tspan font-style="italic">Erk5</tspan><tspan font-weight="normal" font-style="normal" stroke="none" font-size="22.0" dy="-11.0">fl/fl</tspan><tspan dy="11.0" dx="2.4" font-style="italic" xml:space="preserve"> (n=4)</tspan></text>
<text x="772.50" y="1842.50" font-size="34" font-weight="bold" font-style="italic" text-anchor="middle" fill="#231f20" stroke="#231f20" stroke-width="0.35">Nfatc1</text>
<text transform="translate(579.50 2026.00) rotate(-90)" font-size="30" font-weight="bold" font-style="normal" text-anchor="middle" fill="#231f20" stroke="#231f20" stroke-width="0.35">RQ (normalised to <tspan font-style="italic">Hmbs</tspan>)</text>
<line x1="609.40" y1="1922.60" x2="609.40" y2="2139.60" stroke="#231f20" stroke-width="2" stroke-linecap="butt"/>
<line x1="608.40" y1="2138.60" x2="933.40" y2="2138.60" stroke="#231f20" stroke-width="2" stroke-linecap="butt"/>
<line x1="602.40" y1="1923.60" x2="609.40" y2="1923.60" stroke="#231f20" stroke-width="2" stroke-linecap="butt"/>
<text x="599.90" y="1930.29" font-size="18.7" font-weight="normal" font-style="normal" text-anchor="end" fill="#231f20" stroke="#231f20" stroke-width="0.25">5</text>
<line x1="602.40" y1="1966.70" x2="609.40" y2="1966.70" stroke="#231f20" stroke-width="2" stroke-linecap="butt"/>
<text x="599.90" y="1973.39" font-size="18.7" font-weight="normal" font-style="normal" text-anchor="end" fill="#231f20" stroke="#231f20" stroke-width="0.25">4</text>
<line x1="602.40" y1="2009.80" x2="609.40" y2="2009.80" stroke="#231f20" stroke-width="2" stroke-linecap="butt"/>
<text x="599.90" y="2016.49" font-size="18.7" font-weight="normal" font-style="normal" text-anchor="end" fill="#231f20" stroke="#231f20" stroke-width="0.25">3</text>
<line x1="602.40" y1="2052.80" x2="609.40" y2="2052.80" stroke="#231f20" stroke-width="2" stroke-linecap="butt"/>
<text x="599.90" y="2059.49" font-size="18.7" font-weight="normal" font-style="normal" text-anchor="end" fill="#231f20" stroke="#231f20" stroke-width="0.25">2</text>
<line x1="602.40" y1="2095.80" x2="609.40" y2="2095.80" stroke="#231f20" stroke-width="2" stroke-linecap="butt"/>
<text x="599.90" y="2102.49" font-size="18.7" font-weight="normal" font-style="normal" text-anchor="end" fill="#231f20" stroke="#231f20" stroke-width="0.25">1</text>
<line x1="602.40" y1="2138.60" x2="609.40" y2="2138.60" stroke="#231f20" stroke-width="2" stroke-linecap="butt"/>
<text x="599.90" y="2145.29" font-size="18.7" font-weight="normal" font-style="normal" text-anchor="end" fill="#231f20" stroke="#231f20" stroke-width="0.25">0</text>
<line x1="689.50" y1="2138.60" x2="689.50" y2="2146.60" stroke="#231f20" stroke-width="2" stroke-linecap="butt"/>
<line x1="851.50" y1="2138.60" x2="851.50" y2="2146.60" stroke="#231f20" stroke-width="2" stroke-linecap="butt"/>
<rect x="634.50" y="2097.70" width="110.50" height="40.90" fill="#262626" stroke="none" stroke-width="0"/>
<rect x="798.50" y="2003.00" width="106.50" height="134.10" fill="#fff" stroke="none" stroke-width="0"/>
<path d="M798.50 2138.60V2003.00H905.00V2138.60" stroke="#231f20" stroke-width="3" fill="none" stroke-linejoin="miter"/>
<line x1="689.50" y1="2095.60" x2="689.50" y2="2098.70" stroke="#231f20" stroke-width="3" stroke-linecap="butt"/>
<line x1="663.90" y1="2095.60" x2="717.00" y2="2095.60" stroke="#231f20" stroke-width="3" stroke-linecap="butt"/>
<line x1="851.50" y1="1970.00" x2="851.50" y2="2002.50" stroke="#231f20" stroke-width="3" stroke-linecap="butt"/>
<line x1="825.20" y1="1970.00" x2="878.40" y2="1970.00" stroke="#231f20" stroke-width="3" stroke-linecap="butt"/>
<path d="M689.50 2085.00V1898.00H851.50V1935.50" stroke="#231f20" stroke-width="3" fill="none" stroke-linecap="butt" stroke-linejoin="miter"/>
<text x="851.30" y="1966.50" font-size="26" font-weight="normal" font-style="normal" text-anchor="middle" fill="#231f20">**</text>
<text transform="translate(698.00 2169.00) rotate(-45)" font-size="29.7" font-weight="bold" font-style="italic" text-anchor="end" fill="#231f20" stroke="#231f20" stroke-width="0.35">WT (n=3)</text>
<text transform="translate(860.50 2169.00) rotate(-45)" font-size="29.7" font-weight="bold" font-style="normal" text-anchor="end" fill="#231f20" xml:space="preserve" stroke="#231f20" stroke-width="0.35"><tspan font-style="italic">Erk5</tspan><tspan font-weight="normal" font-style="normal" stroke="none" font-size="22.0" dy="-11.0">fl/fl</tspan><tspan dy="11.0" dx="2.4" font-style="italic" xml:space="preserve"> (n=4)</tspan></text>
<text x="1231.00" y="1847.50" font-size="34" font-weight="bold" font-style="italic" text-anchor="middle" fill="#231f20" stroke="#231f20" stroke-width="0.35">Ctsk</text>
<text transform="translate(1018.50 2026.00) rotate(-90)" font-size="30" font-weight="bold" font-style="normal" text-anchor="middle" fill="#231f20" stroke="#231f20" stroke-width="0.35">RQ (normalised to <tspan font-style="italic">Hmbs</tspan>)</text>
<line x1="1070.10" y1="1921.60" x2="1070.10" y2="2138.50" stroke="#231f20" stroke-width="2" stroke-linecap="butt"/>
<line x1="1069.10" y1="2137.50" x2="1392.40" y2="2137.50" stroke="#231f20" stroke-width="2" stroke-linecap="butt"/>
<line x1="1063.10" y1="1922.60" x2="1070.10" y2="1922.60" stroke="#231f20" stroke-width="2" stroke-linecap="butt"/>
<text x="1060.60" y="1929.29" font-size="18.7" font-weight="normal" font-style="normal" text-anchor="end" fill="#231f20" stroke="#231f20" stroke-width="0.25">150</text>
<line x1="1063.10" y1="1994.50" x2="1070.10" y2="1994.50" stroke="#231f20" stroke-width="2" stroke-linecap="butt"/>
<text x="1060.60" y="2001.19" font-size="18.7" font-weight="normal" font-style="normal" text-anchor="end" fill="#231f20" stroke="#231f20" stroke-width="0.25">100</text>
<line x1="1063.10" y1="2065.80" x2="1070.10" y2="2065.80" stroke="#231f20" stroke-width="2" stroke-linecap="butt"/>
<text x="1060.60" y="2072.49" font-size="18.7" font-weight="normal" font-style="normal" text-anchor="end" fill="#231f20" stroke="#231f20" stroke-width="0.25">50</text>
<line x1="1063.10" y1="2137.50" x2="1070.10" y2="2137.50" stroke="#231f20" stroke-width="2" stroke-linecap="butt"/>
<text x="1060.60" y="2144.19" font-size="18.7" font-weight="normal" font-style="normal" text-anchor="end" fill="#231f20" stroke="#231f20" stroke-width="0.25">0</text>
<line x1="1149.00" y1="2137.50" x2="1149.00" y2="2145.50" stroke="#231f20" stroke-width="2" stroke-linecap="butt"/>
<line x1="1311.00" y1="2137.50" x2="1311.00" y2="2145.50" stroke="#231f20" stroke-width="2" stroke-linecap="butt"/>
<rect x="1094.00" y="2130.20" width="110.80" height="7.30" fill="#262626" stroke="none" stroke-width="0"/>
<rect x="1257.00" y="2030.50" width="107.40" height="105.50" fill="#fff" stroke="none" stroke-width="0"/>
<path d="M1257.00 2137.50V2030.50H1364.40V2137.50" stroke="#231f20" stroke-width="3" fill="none" stroke-linejoin="miter"/>
<line x1="1149.00" y1="2128.10" x2="1149.00" y2="2131.20" stroke="#231f20" stroke-width="3" stroke-linecap="butt"/>
<line x1="1123.50" y1="2128.10" x2="1176.70" y2="2128.10" stroke="#231f20" stroke-width="3" stroke-linecap="butt"/>
<line x1="1311.00" y1="1985.90" x2="1311.00" y2="2030.00" stroke="#231f20" stroke-width="3" stroke-linecap="butt"/>
<line x1="1284.90" y1="1985.90" x2="1338.00" y2="1985.90" stroke="#231f20" stroke-width="3" stroke-linecap="butt"/>
<path d="M1149.00 2117.70V1894.50H1311.00V1946.70" stroke="#231f20" stroke-width="3" fill="none" stroke-linecap="butt" stroke-linejoin="miter"/>
<text x="1311.00" y="1983.00" font-size="26" font-weight="normal" font-style="normal" text-anchor="middle" fill="#231f20">*</text>
<text transform="translate(1157.50 2167.90) rotate(-45)" font-size="29.7" font-weight="bold" font-style="italic" text-anchor="end" fill="#231f20" stroke="#231f20" stroke-width="0.35">WT (n=3)</text>
<text transform="translate(1320.00 2167.90) rotate(-45)" font-size="29.7" font-weight="bold" font-style="normal" text-anchor="end" fill="#231f20" xml:space="preserve" stroke="#231f20" stroke-width="0.35"><tspan font-style="italic">Erk5</tspan><tspan font-weight="normal" font-style="normal" stroke="none" font-size="22.0" dy="-11.0">fl/fl</tspan><tspan dy="11.0" dx="2.4" font-style="italic" xml:space="preserve"> (n=4)</tspan></text>
</svg>
</body></html>
